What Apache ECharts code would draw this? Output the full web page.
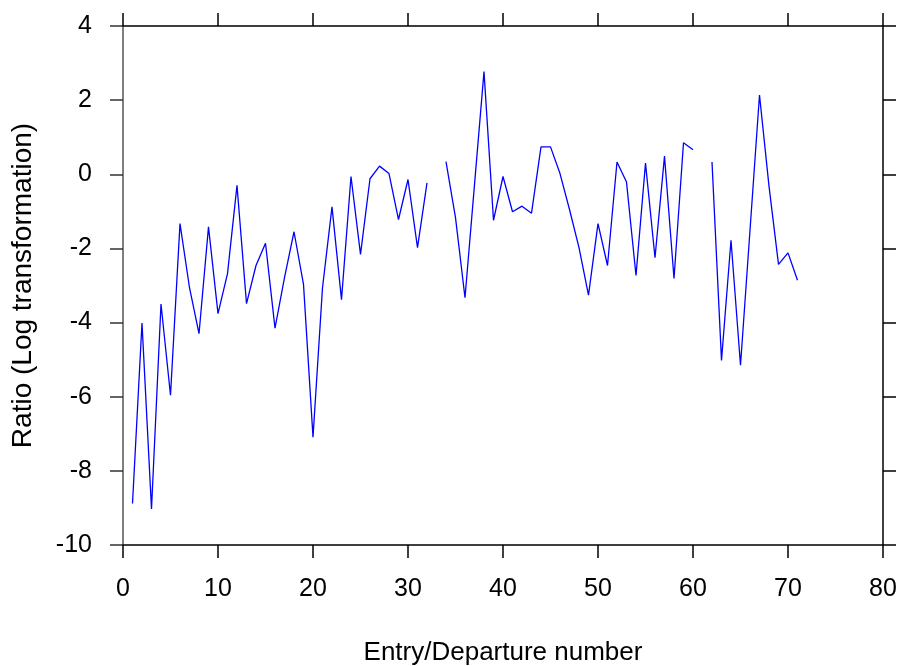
<!DOCTYPE html>
<html>
<head>
<meta charset="utf-8">
<title>Ratio by entry/departure number</title>
<script src="https://cdn.jsdelivr.net/npm/echarts@6/dist/echarts.min.js"></script>
<style>
  html, body { margin: 0; padding: 0; background: #ffffff; }
  #main { width: 906px; height: 666px; }
</style>
</head>
<body>
<div id="main"></div>
<script>
// entry/departure number (x) and log ratio (y); null = missing value, line breaks there
var entryNumbers = [1, 2, 3, 4, 5, 6, 7, 8, 9, 10,
    11, 12, 13, 14, 15, 16, 17, 18, 19, 20,
    21, 22, 23, 24, 25, 26, 27, 28, 29, 30,
    31, 32, 33, 34, 35, 36, 37, 38, 39, 40,
    41, 42, 43, 44, 45, 46, 47, 48, 49, 50,
    51, 52, 53, 54, 55, 56, 57, 58, 59, 60,
    61, 62, 63, 64, 65, 66, 67, 68, 69, 70, 71];
var logRatios = [-8.88, -4.01, -9.03, -3.50, -5.96, -1.33, -3.06, -4.30, -1.42, -3.76,
    -2.68, -0.30, -3.49, -2.46, -1.86, -4.15, -2.79, -1.55, -2.97, -7.09,
    -3.06, -0.88, -3.38, -0.06, -2.16, -0.12, 0.22, 0.02, -1.22, -0.14,
    -1.98, -0.23, null, 0.34, -1.17, -3.33, -0.28, 2.77, -1.24, -0.06,
    -1.01, -0.86, -1.05, 0.74, 0.74, 0.02, -0.95, -1.98, -3.26, -1.33,
    -2.46, 0.33, -0.21, -2.73, 0.30, -2.25, 0.49, -2.81, 0.85, 0.66,
    null, 0.33, -5.02, -1.78, -5.15, -1.51, 2.14, -0.32, -2.43, -2.12, -2.86];

var xTicks = [0, 10, 20, 30, 40, 50, 60, 70, 80];
var yTicks = [-10, -8, -6, -4, -2, 0, 2, 4];

var fontName = 'Arial, "Liberation Sans", sans-serif';

function pairs() {
    var out = [];
    for (var i = 0; i < entryNumbers.length; i++) {
        out.push([entryNumbers[i], logRatios[i] === null ? '-' : logRatios[i]]);
    }
    return out;
}

var myChart = echarts.init(document.getElementById('main'));

var tickStyle = { show: true, length: 13, lineStyle: { color: '#000', width: 1.5 } };

var option = {
    animation: false,
    backgroundColor: '#ffffff',
    grid: {
        left: 123,
        right: 23,
        top: 26,
        bottom: 121,
        outerBoundsMode: 'none'
    },
    xAxis: [
        {
            type: 'value',
            position: 'bottom',
            min: xTicks[0],
            max: xTicks[xTicks.length - 1],
            interval: 10,
            name: 'Entry/Departure number',
            nameLocation: 'middle',
            nameGap: 95,
            nameTextStyle: { color: '#000', fontFamily: fontName, fontSize: 26 },
            axisLine: { show: true, onZero: false, lineStyle: { color: '#000', width: 1.5 } },
            axisTick: tickStyle,
            axisLabel: { show: true, margin: 32, color: '#000', fontFamily: fontName, fontSize: 25 },
            splitLine: { show: false }
        },
        {
            type: 'value',
            position: 'top',
            min: xTicks[0],
            max: xTicks[xTicks.length - 1],
            interval: 10,
            axisLine: { show: true, onZero: false, lineStyle: { color: '#000', width: 1.5 } },
            axisTick: tickStyle,
            axisLabel: { show: false },
            splitLine: { show: false }
        }
    ],
    yAxis: [
        {
            type: 'value',
            position: 'left',
            min: yTicks[0],
            max: yTicks[yTicks.length - 1],
            interval: 2,
            name: 'Ratio (Log transformation)',
            nameLocation: 'middle',
            nameGap: 86,
            nameTextStyle: { color: '#000', fontFamily: fontName, fontSize: 28 },
            axisLine: { show: true, onZero: false, lineStyle: { color: '#555', width: 1.5 } },
            axisTick: { show: true, length: 13, lineStyle: { color: '#333', width: 1.5 } },
            axisLabel: { show: true, margin: 31, color: '#000', fontFamily: fontName, fontSize: 25 },
            splitLine: { show: false }
        },
        {
            type: 'value',
            position: 'right',
            min: yTicks[0],
            max: yTicks[yTicks.length - 1],
            interval: 2,
            axisLine: { show: true, onZero: false, lineStyle: { color: '#000', width: 1.5 } },
            axisTick: tickStyle,
            axisLabel: { show: false },
            splitLine: { show: false }
        }
    ],
    series: [
        {
            name: 'Ratio',
            type: 'line',
            xAxisIndex: 0,
            yAxisIndex: 0,
            data: pairs(),
            showSymbol: false,
            symbol: 'none',
            connectNulls: false,
            lineStyle: { color: '#0000ff', width: 1.3 },
            silent: true
        }
    ]
};

myChart.setOption(option);
</script>
</body>
</html>
